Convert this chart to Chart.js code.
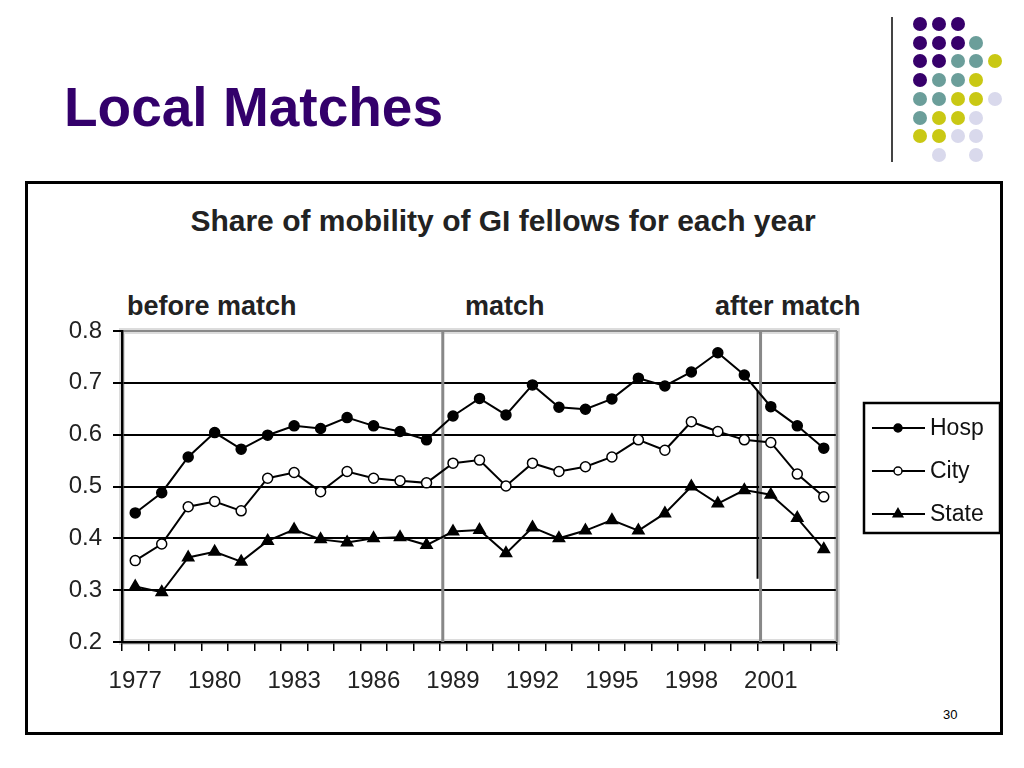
<!DOCTYPE html>
<html>
<head>
<meta charset="utf-8">
<script src="https://cdn.jsdelivr.net/npm/chart.js@4/dist/chart.umd.min.js"></script>
<style>
  html, body { margin: 0; padding: 0; background: #fff; }
  body { width: 1024px; height: 768px; position: relative; overflow: hidden; font-family: "Liberation Sans", Arial, sans-serif; }
  .txt { position: absolute; white-space: nowrap; line-height: 1; }
  #pageTitle { left: 64px; top: 80px; font-size: 55px; font-weight: bold; color: #33006b; }
  #chartTitle { left: 503px; top: 206px; font-size: 30px; font-weight: bold; color: #222; transform: translateX(-50%); }
  .phase { top: 293px; font-size: 27px; font-weight: bold; color: #222; }
  #pageNum { left: 943px; top: 708px; font-size: 13px; color: #000; }
  #box { position: absolute; left: 25px; top: 181px; width: 972px; height: 548px; border: 3px solid #000; }
  #divider { position: absolute; left: 891px; top: 17px; width: 2px; height: 145px; background: #444; }
  .dot { position: absolute; width: 14px; height: 14px; border-radius: 50%; }
  canvas { position: absolute; left: 0; top: 0; }
</style>
</head>
<body>
<div id="box"></div>
<div id="divider"></div>
<div class="txt" id="pageTitle">Local Matches</div>
<div class="txt" id="chartTitle">Share of mobility of GI fellows for each year</div>
<div class="txt phase" style="left:127px">before match</div>
<div class="txt phase" style="left:465px">match</div>
<div class="txt phase" style="left:715px">after match</div>
<div class="txt" id="pageNum">30</div>
<canvas id="chart" width="1024" height="768"></canvas>
<script>
// valeurs
const years = ["1977", "1978", "1979", "1980", "1981", "1982", "1983", "1984", "1985",
  "1986", "1987", "1988", "1989", "1990", "1991", "1992", "1993", "1994", "1995",
  "1996", "1997", "1998", "1999", "2000", "2001", "2002", "2003"];

const hosp = [0.449, 0.488, 0.557, 0.604, 0.572, 0.599, 0.617, 0.612, 0.633,
  0.617, 0.606, 0.590, 0.636, 0.670, 0.638, 0.696, 0.653, 0.649, 0.669,
  0.709, 0.694, 0.721, 0.758, 0.715, 0.654, 0.617, 0.574];

const city = [0.357, 0.389, 0.461, 0.471, 0.453, 0.516, 0.527, 0.490, 0.529,
  0.516, 0.511, 0.507, 0.545, 0.551, 0.501, 0.545, 0.529, 0.538, 0.557,
  0.590, 0.570, 0.625, 0.606, 0.590, 0.585, 0.524, 0.480];

const state = [0.307, 0.296, 0.363, 0.374, 0.355, 0.395, 0.417, 0.398, 0.392,
  0.400, 0.402, 0.387, 0.413, 0.416, 0.371, 0.421, 0.400, 0.415, 0.435,
  0.415, 0.448, 0.500, 0.467, 0.493, 0.484, 0.439, 0.379];

const yTicks = [0.2, 0.3, 0.4, 0.5, 0.6, 0.7, 0.8];
// séparateurs entre périodes (dernière année de chaque période)
const phaseEnds = ["1988", "2000"];

// décor en haut à droite
const dotRows = ["PPP..", "PPPT.", "PPTTY", "PTTY.", "TTYYL", "TYYL.", "YYLL.", ".L.L."];
const dotColors = { P: "#37006b", T: "#6b9e9a", Y: "#c9c814", L: "#d9d9ec" };
dotRows.forEach((row, r) => {
  [...row].forEach((c, i) => {
    if (c === ".") return;
    const d = document.createElement("div");
    d.className = "dot";
    d.style.left = (913 + i * 18.8) + "px";
    d.style.top = (17 + r * 18.7) + "px";
    d.style.background = dotColors[c];
    document.body.appendChild(d);
  });
});

Chart.defaults.font.family = '"Liberation Sans", Arial, sans-serif';
Chart.defaults.color = "#222";

const frame = {
  id: "frame",
  beforeDraw(chart) {
    const { ctx, chartArea: a } = chart;
    ctx.save();
    ctx.strokeStyle = "#dcdcdc";
    ctx.lineWidth = 6;
    ctx.strokeRect(a.left, a.top, a.right - a.left, a.bottom - a.top);
    ctx.restore();
  },
  beforeDatasetsDraw(chart) {
    const { ctx, chartArea: a, scales } = chart;
    const x = scales.x, y = scales.y;
    const half = (x.getPixelForValue(1) - x.getPixelForValue(0)) / 2;
    ctx.save();
    ctx.strokeStyle = "#888";
    ctx.lineWidth = 2.5;
    ctx.beginPath();
    ctx.moveTo(a.right, a.top);
    ctx.lineTo(a.right, a.bottom);
    ctx.stroke();
    ctx.lineWidth = 3;
    phaseEnds.forEach((yr) => {
      const px = x.getPixelForValue(years.indexOf(yr)) + half + 3;
      ctx.beginPath();
      ctx.moveTo(px, a.top);
      ctx.lineTo(px, a.bottom);
      ctx.stroke();
    });
    // trait noir partiel sur la deuxième séparation
    const bx = x.getPixelForValue(years.indexOf(phaseEnds[1])) + half;
    ctx.strokeStyle = "#000";
    ctx.lineWidth = 2;
    ctx.beginPath();
    ctx.moveTo(bx, y.getPixelForValue(0.685));
    ctx.lineTo(bx, y.getPixelForValue(0.322));
    ctx.stroke();
    ctx.restore();
  }
};

const boxLegend = {
  id: "boxLegend",
  afterDraw(chart) {
    const { ctx } = chart;
    ctx.save();
    ctx.strokeStyle = "#000";
    ctx.lineWidth = 2.5;
    ctx.strokeRect(864, 403, 136, 130);
    ctx.font = '23px "Liberation Sans", Arial, sans-serif';
    ctx.textBaseline = "middle";
    chart.data.datasets.forEach((ds, i) => {
      const ly = 428 + i * 43;
      ctx.strokeStyle = "#000";
      ctx.lineWidth = 2;
      ctx.beginPath();
      ctx.moveTo(872, ly);
      ctx.lineTo(925, ly);
      ctx.stroke();
      ctx.fillStyle = ds.pointBackgroundColor;
      ctx.strokeStyle = ds.pointBorderColor;
      ctx.lineWidth = 1.5;
      Chart.helpers.drawPoint(ctx, {
        pointStyle: ds.pointStyle,
        radius: ds.pointRadius - 1,
        borderWidth: 1.5,
        rotation: 0
      }, 898, ly);
      ctx.fillStyle = "#111";
      ctx.fillText(ds.label, 930, ly + 1);
    });
    ctx.restore();
  }
};

function series(label, data, style, fill, radius) {
  return {
    label,
    data,
    borderColor: "#000",
    borderWidth: 2,
    tension: 0,
    pointStyle: style,
    pointRadius: radius,
    pointBackgroundColor: fill,
    pointBorderColor: "#000",
    pointBorderWidth: 1.5
  };
}

new Chart(document.getElementById("chart"), {
  type: "line",
  data: {
    labels: years,
    datasets: [
      series("Hosp", hosp, "circle", "#000", 5),
      series("City", city, "circle", "#fff", 5),
      series("State", state, "triangle", "#000", 6.5)
    ]
  },
  options: {
    responsive: false,
    animation: false,
    layout: { padding: { top: 331, right: 187, left: 0, bottom: 0 } },
    plugins: {
      legend: { display: false },
      tooltip: { enabled: false }
    },
    scales: {
      x: {
        offset: true,
        grid: { drawOnChartArea: false, offset: true, tickLength: 9, color: "#000", lineWidth: 1.5 },
        border: { color: "#000", width: 2.5 },
        ticks: {
          autoSkip: false,
          minRotation: 0,
          maxRotation: 0,
          padding: 16,
          font: { size: 24 },
          color: "#222",
          callback(v, i) {
            return i % 3 === 0 ? years[i] : "";
          }
        },
        afterFit(s) { s.height = 126; }
      },
      y: {
        min: yTicks[0],
        max: yTicks[yTicks.length - 1],
        afterBuildTicks(s) { s.ticks = yTicks.map((v) => ({ value: v })); },
        grid: {
          color: (c) => (Math.abs(c.tick.value - 0.8) < 1e-6 ? "#888" : "#000"),
          lineWidth: 2,
          tickLength: 9,
          tickColor: "#000"
        },
        border: { color: "#000", width: 2.5 },
        ticks: {
          padding: 11,
          font: { size: 24 },
          color: "#222",
          callback: (v) => v.toFixed(1)
        },
        afterFit(s) { s.width = 122; }
      }
    }
  },
  plugins: [frame, boxLegend]
});
</script>
</body>
</html>
